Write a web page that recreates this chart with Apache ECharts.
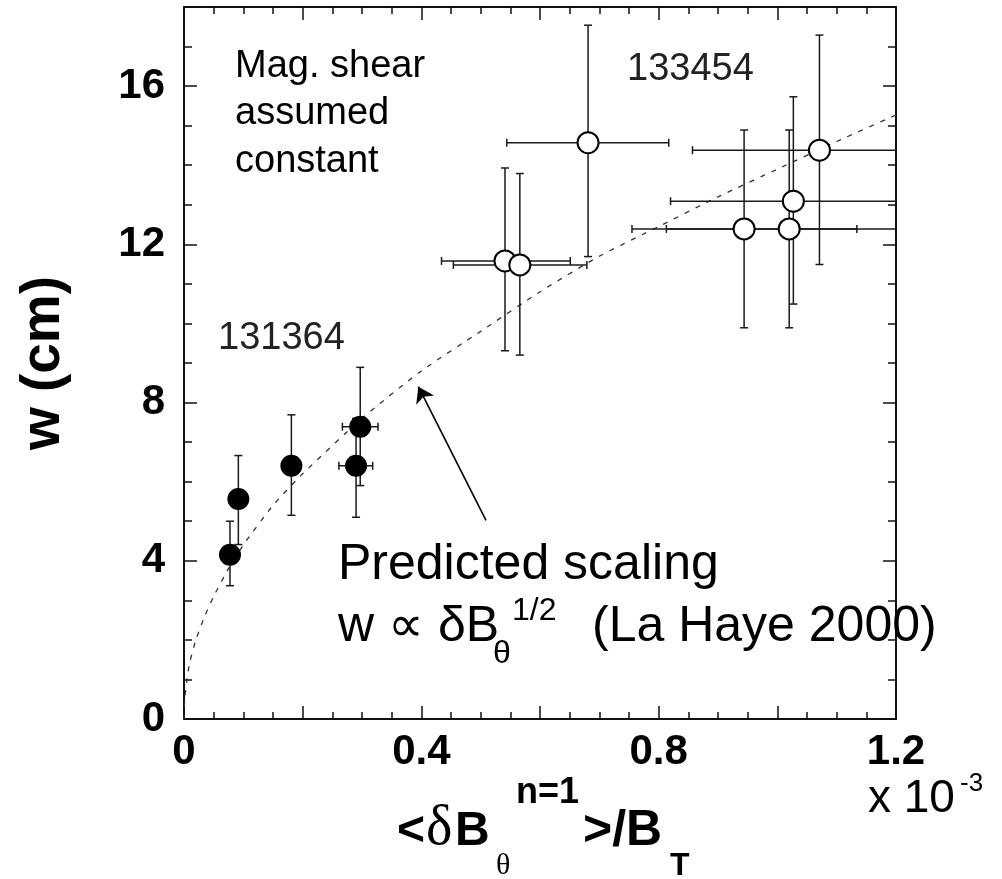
<!DOCTYPE html>
<html><head><meta charset="utf-8">
<script src="https://cdn.jsdelivr.net/npm/echarts@6/dist/echarts.min.js"></script>
<style>html,body{margin:0;padding:0;background:#fff}#c{width:1002px;height:879px}</style>
</head><body><div id="c"></div>
<script>
// ---- shot 131364 (filled circles), x in units of 1e-3 ----
const s1X     = [0.0775, 0.0916, 0.181, 0.290, 0.297];
const s1Y     = [4.15, 5.56, 6.40, 6.40, 7.39];
const s1XLow  = [0.0775, 0.0916, 0.181, 0.261, 0.267];
const s1XHigh = [0.0775, 0.0916, 0.181, 0.318, 0.327];
const s1YLow  = [3.37, 4.41, 5.15, 5.10, 5.90];
const s1YHigh = [5.00, 6.66, 7.69, 7.60, 8.89];
// ---- shot 133454 (open circles) ----
const s2X     = [0.541, 0.566, 0.681, 0.944, 1.020, 1.027, 1.071];
const s2Y     = [11.58, 11.48, 14.57, 12.39, 12.39, 13.09, 14.38];
const s2XLow  = [0.434, 0.454, 0.544, 0.755, 0.813, 0.820, 0.857];
const s2XHigh = [0.651, 0.679, 0.817, 1.134, 1.227, 1.234, 1.285];
const s2YLow  = [9.31, 9.20, 11.69, 9.89, 9.89, 10.49, 11.49];
const s2YHigh = [13.93, 13.79, 17.54, 14.89, 14.89, 15.73, 17.29];
// ---- predicted scaling curve ----
const curveX = [0, 0.001, 0.005, 0.01, 0.02, 0.035, 0.05, 0.075, 0.1, 0.15, 0.2, 0.3, 0.4, 0.5, 0.6, 0.7, 0.8, 0.9, 1.0, 1.1, 1.2];
const curveY = [0, 0.45, 1.0, 1.45, 2.0, 2.6, 3.1, 3.8, 4.4, 5.4, 6.2, 7.6, 8.8, 9.8, 10.8, 11.7, 12.45, 13.2, 13.9, 14.6, 15.27];
// ---- arrow annotation (data units) ----
const arrowTail = [0.509, 5.02];
const arrowHead = [0.395, 8.40];
// ---- tick labels ----
const xTickLabels = ['0', '0.4', '0.8', '1.2'];
const yTickLabels = ['0', '4', '8', '12', '16'];

const FONT = "'Liberation Sans', Arial, Helvetica, sans-serif";
const SERIF = "'Liberation Serif', 'DejaVu Serif', serif";
const INK = '#111';

function rows(X, Y, XL, XH, YL, YH) {
  return X.map((x, i) => [x, Y[i], XL[i], XH[i], YL[i], YH[i]]);
}
function errRender(params, api) {
  const x = api.value(0), y = api.value(1);
  const xl = api.value(2), xh = api.value(3), yl = api.value(4), yh = api.value(5);
  const cs = params.coordSys;
  const L = cs.x, R = cs.x + cs.width, T = cs.y, B = cs.y + cs.height;
  const c = api.coord([x, y]);
  const st = { stroke: '#1a1a1a', lineWidth: 1.5 };
  const cap = 4;
  const ch = [];
  if (yh > yl) {
    const p1 = api.coord([x, yl]), p2 = api.coord([x, yh]);
    const y1 = Math.min(p1[1], B), y2 = Math.max(p2[1], T);
    ch.push({ type: 'line', shape: { x1: c[0], y1: y1, x2: c[0], y2: y2 }, style: st });
    if (p1[1] <= B) ch.push({ type: 'line', shape: { x1: c[0] - cap, y1: y1, x2: c[0] + cap, y2: y1 }, style: st });
    if (p2[1] >= T) ch.push({ type: 'line', shape: { x1: c[0] - cap, y1: y2, x2: c[0] + cap, y2: y2 }, style: st });
  }
  if (xh > xl) {
    const p1 = api.coord([xl, y]), p2 = api.coord([xh, y]);
    const x1 = Math.max(p1[0], L), x2 = Math.min(p2[0], R);
    ch.push({ type: 'line', shape: { x1: x1, y1: c[1], x2: x2, y2: c[1] }, style: st });
    if (p1[0] >= L) ch.push({ type: 'line', shape: { x1: x1, y1: c[1] - cap, x2: x1, y2: c[1] + cap }, style: st });
    if (p2[0] <= R) ch.push({ type: 'line', shape: { x1: x2, y1: c[1] - cap, x2: x2, y2: c[1] + cap }, style: st });
  }
  return { type: 'group', children: ch };
}

function txt(text, x, baseline, size, opt) {
  opt = opt || {};
  return {
    type: 'text', z: 50, x: x, y: baseline - 0.35 * size,
    style: {
      text: text, fill: opt.fill || '#000',
      font: (opt.weight || 'normal') + ' ' + size + 'px ' + (opt.family || FONT),
      textAlign: 'left', textVerticalAlign: 'middle'
    }
  };
}

const axisLineStyle = { color: INK, width: 2 };
const fmtX = v => { const s = String(+(+v).toFixed(2)); return xTickLabels.includes(s) ? s : ''; };
const fmtY = v => { const s = String(Math.round(v)); return yTickLabels.includes(s) ? s : ''; };

function xAx(pos, labels) {
  return {
    type: 'value', position: pos, min: 0, max: 1.2, interval: 0.2,
    axisLine: { show: true, onZero: false, lineStyle: axisLineStyle },
    axisTick: { show: true, inside: true, length: 13, lineStyle: { color: INK, width: 1.5 } },
    minorTick: { show: true, splitNumber: 4, length: 7, lineStyle: { color: INK, width: 1.5 } },
    axisLabel: { show: labels, formatter: fmtX, margin: 12, color: '#000', fontSize: 42, fontWeight: 'bold', fontFamily: FONT },
    splitLine: { show: false }, minorSplitLine: { show: false }
  };
}
function yAx(pos, interval, len, labels, line) {
  return {
    type: 'value', position: pos, min: 0, max: 18, interval: interval,
    axisLine: { show: line, onZero: false, lineStyle: axisLineStyle },
    axisTick: { show: true, inside: true, length: len, lineStyle: { color: INK, width: 1.5 } },
    axisLabel: { show: labels, formatter: fmtY, margin: 19, color: '#000', fontSize: 42, fontWeight: 'bold', fontFamily: FONT },
    splitLine: { show: false }
  };
}

const chart = echarts.init(document.getElementById('c'), null, { renderer: 'canvas' });
chart.setOption({
  animation: false,
  backgroundColor: '#fff',
  grid: { left: 184, right: 106, top: 7, bottom: 160, containLabel: false },
  xAxis: [xAx('bottom', true), xAx('top', false)],
  yAxis: [yAx('left', 1, 8, true, true), yAx('left', 4, 13, false, false),
          yAx('right', 1, 8, false, true), yAx('right', 4, 13, false, false)],
  series: [
    {
      type: 'line', xAxisIndex: 0, yAxisIndex: 0, z: 2,
      data: curveX.map((x, i) => [x, curveY[i]]),
      showSymbol: false, symbol: 'none', smooth: 0.2,
      lineStyle: { color: '#333', width: 1.3, type: [5, 7] },
      markLine: {
        silent: true, symbol: ['none', 'arrow'], symbolSize: 15,
        label: { show: false },
        lineStyle: { type: 'solid', color: '#000', width: 1.6 },
        data: [[{ coord: arrowTail }, { coord: arrowHead }]]
      }
    },
    { type: 'custom', renderItem: errRender, data: rows(s1X, s1Y, s1XLow, s1XHigh, s1YLow, s1YHigh), encode: { x: 0, y: 1 }, z: 3 },
    { type: 'custom', renderItem: errRender, data: rows(s2X, s2Y, s2XLow, s2XHigh, s2YLow, s2YHigh), encode: { x: 0, y: 1 }, z: 3 },
    {
      type: 'scatter', z: 5, symbol: 'circle', symbolSize: 22,
      data: s1X.map((x, i) => [x, s1Y[i]]),
      itemStyle: { color: '#000', opacity: 1 }
    },
    {
      type: 'scatter', z: 5, symbol: 'circle', symbolSize: 21,
      data: s2X.map((x, i) => [x, s2Y[i]]),
      itemStyle: { color: '#fff', borderColor: '#000', borderWidth: 2, opacity: 1 }
    }
  ],
  graphic: [
    txt('Mag. shear', 235, 80, 38),
    txt('assumed', 235, 127, 38),
    txt('constant', 235, 175, 38),
    txt('133454', 627, 83, 38, { fill: '#222' }),
    txt('131364', 218, 352, 38, { fill: '#222' }),
    txt('Predicted scaling', 338, 583, 50),
    txt('w \u221D \u03B4B', 338, 645, 50),
    txt('\u03B8', 493, 665, 32),
    txt('1/2', 512, 622, 32),
    txt('(La Haye 2000)', 592, 645, 50),
    // y axis title (rotated)
    {
      type: 'text', z: 50, x: 44, y: 363, rotation: Math.PI / 2,
      style: { text: 'w (cm)', fill: '#000', font: 'bold 55px ' + FONT, textAlign: 'center', textVerticalAlign: 'middle' }
    },
    // x axis title
    txt('<', 397, 849, 48, { weight: 'bold' }),
    txt('\u03B4', 426, 849, 56, { family: SERIF }),
    txt('B', 455, 849, 48, { weight: 'bold' }),
    txt('\u03B8', 496, 877, 30, { family: SERIF }),
    txt('n=1', 516, 806, 36, { weight: 'bold' }),
    txt('>/B', 583, 849, 50, { weight: 'bold' }),
    txt('T', 670, 877, 32, { weight: 'bold' }),
    txt('x 10', 868, 815, 46),
    txt('-3', 960, 793, 26)
  ]
});
</script>
</body></html>
